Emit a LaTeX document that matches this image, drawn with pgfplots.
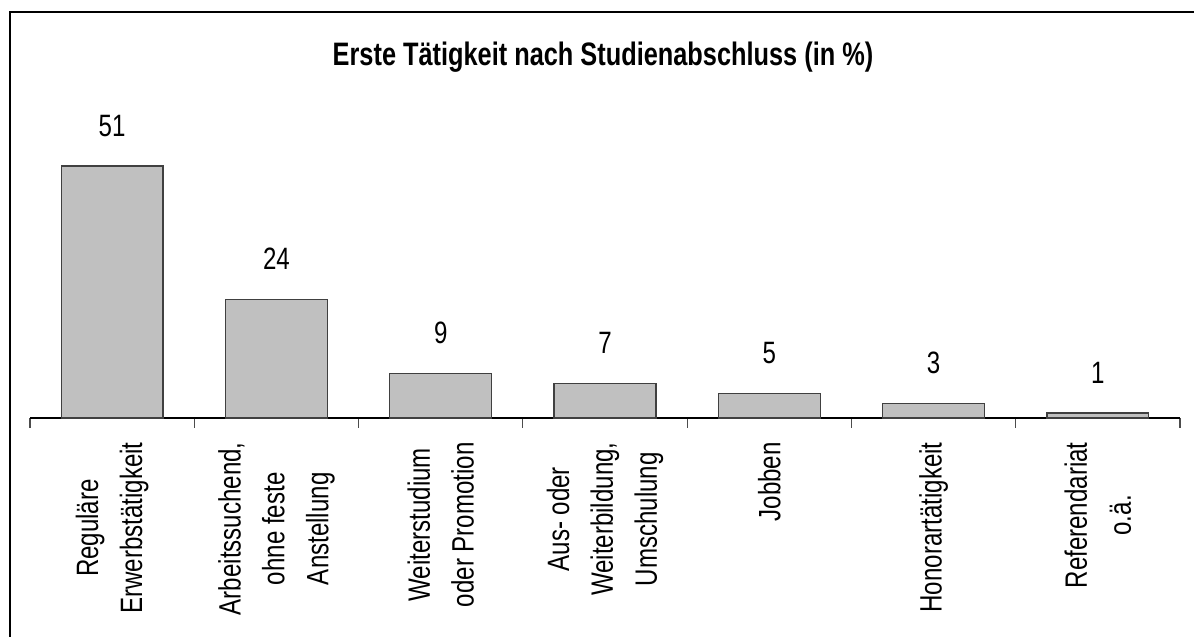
\documentclass[border=0pt]{standalone}
\usepackage{fontspec}
\setmainfont[FakeStretch=0.78]{Liberation Sans}
\usepackage{pgfplots}
\pgfplotsset{compat=1.18}
\begin{document}
\begin{tikzpicture}
\useasboundingbox (0,0) rectangle (597bp,318.5bp);
\draw[black, line width=0.7bp] (5bp,0) -- (5bp,312.5bp) -- (597bp,312.5bp);
\node[font=\fontsize{16.3}{20}\selectfont\bfseries] at (301.5bp,290bp) {Erste Tätigkeit nach Studienabschluss (in \%)};
\begin{axis}[
  at={(15bp,109.5bp)}, anchor=south west,
  scale only axis, width=575bp, height=126bp,
  xmin=-0.5, xmax=6.5, ymin=0, ymax=51,
  clip=false,
  axis x line=bottom, axis y line=none,
  x axis line style={-, black, line width=0.7bp},
  ybar, bar width=0.62,
  xtick={0,1,2,3,4,5,6},
  xticklabels={{Reguläre\\Erwerbstätigkeit},{Arbeitssuchend,\\ohne feste\\Anstellung},{Weiterstudium\\oder Promotion},{Aus- oder\\Weiterbildung,\\Umschulung},{Jobben},{Honorartätigkeit},{Referendariat\\o.ä.}},
  major tick length=0pt,
  minor xtick={-0.5,0.5,...,6.5},
  minor tick length=5bp,
  tick align=outside,
  minor tick style={black!70, line width=0.6bp},
  xticklabel shift=12bp,
  xticklabel style={rotate=90, anchor=east, align=center, inner sep=0pt, font=\fontsize{15.5}{22}\selectfont},
  nodes near coords,
  /pgf/number format/assume math mode=true,
  nodes near coords style={anchor=south, inner sep=0pt, yshift=14.5bp, font=\fontsize{15.5}{18}\selectfont, black},
]
\addplot[fill={rgb,255:red,192;green,192;blue,192}, draw=black!75, line width=0.6bp] coordinates {(0,51) (1,24) (2,9) (3,7) (4,5) (5,3) (6,1)};
\end{axis}
\end{tikzpicture}
\end{document}
